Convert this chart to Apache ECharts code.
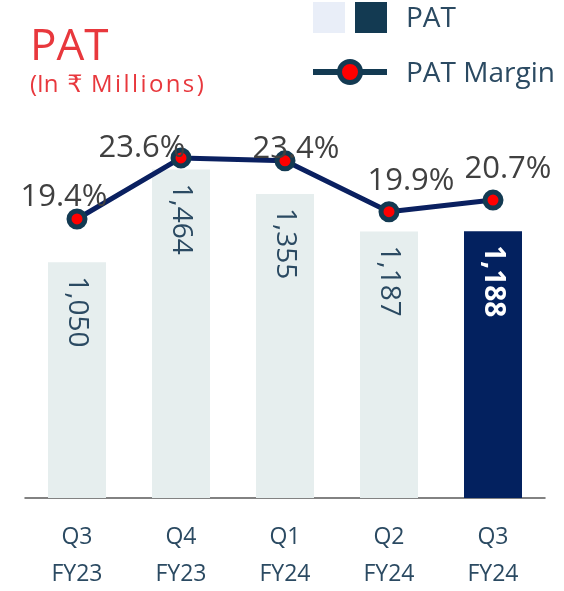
<!DOCTYPE html>
<html>
<head>
<meta charset="utf-8">
<script src="https://cdn.jsdelivr.net/npm/echarts@6/dist/echarts.min.js"></script>
<style>
  html, body { margin: 0; padding: 0; background: #fff; }
</style>
</head>
<body>
<div id="main" style="width:564px; height:591px"></div>
<script type="text/javascript">
  var quarters = ['Q3\nFY23', 'Q4\nFY23', 'Q1\nFY24', 'Q2\nFY24', 'Q3\nFY24'];
  var patValues = [1050, 1464, 1355, 1187, 1188];
  var marginValues = [19.4, 23.6, 23.4, 19.9, 20.7];
  // where each % label sits relative to its point
  var marginLabelOffsets = [[-13, -22], [-39, -10], [11, -12], [22, -31], [15, -31]];

  var font = '"Open Sans", "DejaVu Sans", sans-serif';
  var navy = '#0a2060';
  var markerEdge = '#133a52';
  var red = '#e8383d';
  var textBlue = '#2b4a62';

  var barData = patValues.map(function (v, i) {
    var last = i === patValues.length - 1;
    return {
      value: v,
      itemStyle: { color: last ? '#03215f' : '#e6eeee' },
      label: last ? { color: '#fff', fontWeight: 'bold' } : {}
    };
  });

  var lineData = marginValues.map(function (v, i) {
    return { value: v, label: { offset: marginLabelOffsets[i] } };
  });

  var myChart = echarts.init(document.getElementById('main'));
  var option = {
    animation: false,
    title: {
      text: 'PAT',
      subtext: '(In\u200a \u20b9\u200a M\u200ai\u200al\u200al\u200ai\u200ao\u200an\u200as\u200a)',
      left: 25,
      top: 20,
      itemGap: 4,
      textStyle: { fontFamily: font, fontSize: 44, fontWeight: 'normal', color: red },
      subtextStyle: { fontFamily: font, fontSize: 24, color: red }
    },
    graphic: [
      { type: 'rect', shape: { x: 313, y: 2, width: 32, height: 31 }, style: { fill: '#e9eef8' } },
      { type: 'rect', shape: { x: 355, y: 2, width: 32, height: 31 }, style: { fill: markerEdge } },
      { type: 'text', x: 406, y: 19, style: { text: 'PAT', font: '28px ' + font, fill: textBlue, verticalAlign: 'middle' } },
      { type: 'line', shape: { x1: 313, y1: 72, x2: 387, y2: 72 }, style: { stroke: markerEdge, lineWidth: 6 } },
      { type: 'circle', shape: { cx: 350, cy: 72, r: 10.5 }, style: { fill: '#ff0000', stroke: markerEdge, lineWidth: 5 } },
      { type: 'text', x: 406, y: 74, style: { text: 'PAT Margin', font: '28px ' + font, fill: textBlue, verticalAlign: 'middle' } }
    ],
    grid: { left: 25, right: 19, top: 94, bottom: 93, outerBoundsMode: 'none' },
    xAxis: {
      type: 'category',
      data: quarters,
      axisTick: { show: false },
      axisLine: { lineStyle: { color: '#595959', width: 1.5 } },
      axisLabel: { fontFamily: font, fontSize: 23, lineHeight: 37, color: textBlue, margin: 21 }
    },
    yAxis: [
      { type: 'value', min: 0, max: 1800, show: false, splitLine: { show: false } },
      { type: 'value', min: 0.2, max: 28, show: false, splitLine: { show: false } }
    ],
    series: [
      {
        name: 'PAT',
        type: 'bar',
        data: barData,
        barWidth: 58,
        label: {
          show: true,
          position: 'insideTop',
          rotate: -90,
          align: 'left',
          verticalAlign: 'middle',
          distance: 14,
          fontFamily: font,
          fontSize: 28,
          color: textBlue,
          formatter: function (p) { return p.value.toLocaleString('en-US'); }
        }
      },
      {
        name: 'PAT Margin',
        type: 'line',
        yAxisIndex: 1,
        data: lineData,
        symbol: 'circle',
        symbolSize: 16,
        lineStyle: { color: navy, width: 5 },
        itemStyle: { color: '#ff0000', borderColor: markerEdge, borderWidth: 5 },
        label: {
          show: true,
          position: 'inside',
          fontFamily: font,
          fontSize: 31,
          color: '#404040',
          formatter: function (p) { return p.value.toFixed(1) + '%'; }
        },
        z: 5
      }
    ]
  };
  myChart.setOption(option);
</script>
</body>
</html>
